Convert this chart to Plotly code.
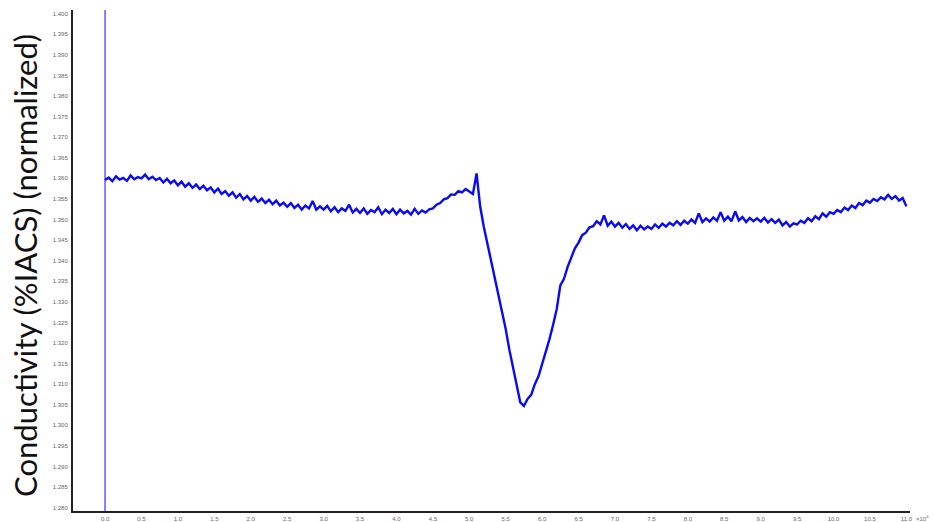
import plotly.graph_objects as go

# position (x 10^4) and normalized conductivity (%IACS)
x_values = [
    0.00, 0.05, 0.10, 0.15, 0.20, 0.25, 0.30, 0.35, 0.40, 0.45,
    0.50, 0.55, 0.60, 0.65, 0.70, 0.75, 0.80, 0.85, 0.90, 0.95,
    1.00, 1.05, 1.10, 1.15, 1.20, 1.25, 1.30, 1.35, 1.40, 1.45,
    1.50, 1.55, 1.60, 1.65, 1.70, 1.75, 1.80, 1.85, 1.90, 1.95,
    2.00, 2.05, 2.10, 2.15, 2.20, 2.25, 2.30, 2.35, 2.40, 2.45,
    2.50, 2.55, 2.60, 2.65, 2.70, 2.75, 2.80, 2.85, 2.90, 2.95,
    3.00, 3.05, 3.10, 3.15, 3.20, 3.25, 3.30, 3.35, 3.40, 3.45,
    3.50, 3.55, 3.60, 3.65, 3.70, 3.75, 3.80, 3.85, 3.90, 3.95,
    4.00, 4.05, 4.10, 4.15, 4.20, 4.25, 4.30, 4.35, 4.40, 4.45,
    4.50, 4.55, 4.60, 4.65, 4.70, 4.75, 4.80, 4.85, 4.90, 4.95,
    5.00, 5.05, 5.10, 5.15, 5.20, 5.25, 5.30, 5.35, 5.40, 5.45,
    5.50, 5.55, 5.60, 5.65, 5.70, 5.75, 5.80, 5.85, 5.90, 5.95,
    6.00, 6.05, 6.10, 6.15, 6.20, 6.25, 6.30, 6.35, 6.40, 6.45,
    6.50, 6.55, 6.60, 6.65, 6.70, 6.75, 6.80, 6.85, 6.90, 6.95,
    7.00, 7.05, 7.10, 7.15, 7.20, 7.25, 7.30, 7.35, 7.40, 7.45,
    7.50, 7.55, 7.60, 7.65, 7.70, 7.75, 7.80, 7.85, 7.90, 7.95,
    8.00, 8.05, 8.10, 8.15, 8.20, 8.25, 8.30, 8.35, 8.40, 8.45,
    8.50, 8.55, 8.60, 8.65, 8.70, 8.75, 8.80, 8.85, 8.90, 8.95,
    9.00, 9.05, 9.10, 9.15, 9.20, 9.25, 9.30, 9.35, 9.40, 9.45,
    9.50, 9.55, 9.60, 9.65, 9.70, 9.75, 9.80, 9.85, 9.90, 9.95,
    10.00, 10.05, 10.10, 10.15, 10.20, 10.25, 10.30, 10.35, 10.40, 10.45,
    10.50, 10.55, 10.60, 10.65, 10.70, 10.75, 10.80, 10.85, 10.90, 10.95,
    11.00,
]

conductivity = [
    1.3596, 1.3602, 1.3593, 1.3605, 1.3597, 1.3601, 1.3594, 1.3607, 1.3598, 1.3603,
    1.3600, 1.3609, 1.3598, 1.3604, 1.3596, 1.3601, 1.3590, 1.3599, 1.3588, 1.3595,
    1.3583, 1.3592, 1.3580, 1.3588, 1.3577, 1.3585, 1.3574, 1.3582, 1.3571, 1.3578,
    1.3566, 1.3575, 1.3562, 1.3569, 1.3558, 1.3566, 1.3553, 1.3562, 1.3549, 1.3557,
    1.3546, 1.3555, 1.3543, 1.3551, 1.3540, 1.3548, 1.3537, 1.3546, 1.3534, 1.3541,
    1.3531, 1.3540, 1.3528, 1.3536, 1.3524, 1.3534, 1.3527, 1.3545, 1.3524, 1.3532,
    1.3524, 1.3533, 1.3520, 1.3530, 1.3518, 1.3527, 1.3521, 1.3536, 1.3517, 1.3526,
    1.3516, 1.3527, 1.3514, 1.3523, 1.3518, 1.3530, 1.3513, 1.3524, 1.3516, 1.3526,
    1.3513, 1.3524, 1.3515, 1.3521, 1.3512, 1.3526, 1.3514, 1.3522, 1.3517, 1.3525,
    1.3527, 1.3536, 1.3540, 1.3549, 1.3552, 1.3561, 1.3560, 1.3569, 1.3566, 1.3574,
    1.3568, 1.3562, 1.3612, 1.3531, 1.3482, 1.3441, 1.3400, 1.3358, 1.3317, 1.3275,
    1.3234, 1.3184, 1.3139, 1.3094, 1.3056, 1.3047, 1.3064, 1.3074, 1.3100, 1.3119,
    1.3148, 1.3175, 1.3209, 1.3244, 1.3282, 1.3340, 1.3356, 1.3385, 1.3408, 1.3430,
    1.3444, 1.3462, 1.3468, 1.3481, 1.3484, 1.3496, 1.3488, 1.3510, 1.3485, 1.3495,
    1.3483, 1.3492, 1.3480, 1.3489, 1.3477, 1.3486, 1.3474, 1.3485, 1.3476, 1.3483,
    1.3477, 1.3488, 1.3480, 1.3490, 1.3483, 1.3492, 1.3486, 1.3496, 1.3487, 1.3497,
    1.3490, 1.3500, 1.3492, 1.3515, 1.3494, 1.3503, 1.3495, 1.3505, 1.3497, 1.3518,
    1.3497, 1.3507, 1.3496, 1.3520, 1.3498, 1.3506, 1.3494, 1.3504, 1.3496, 1.3503,
    1.3495, 1.3504, 1.3493, 1.3501, 1.3492, 1.3500, 1.3486, 1.3494, 1.3483, 1.3491,
    1.3488, 1.3497, 1.3492, 1.3503, 1.3496, 1.3508, 1.3501, 1.3515, 1.3507, 1.3518,
    1.3514, 1.3523, 1.3518, 1.3529, 1.3523, 1.3534, 1.3528, 1.3540, 1.3535, 1.3546,
    1.3541, 1.3550, 1.3545, 1.3554, 1.3549, 1.3560, 1.3550, 1.3557, 1.3546, 1.3552,
    1.3532,
]

# off-scale spike at the start of the record
spike_x = [0.0, 0.0]
spike_y = [1.2792, 1.4009]

x_ticks = [0.0, 0.5, 1.0, 1.5, 2.0, 2.5, 3.0, 3.5, 4.0, 4.5, 5.0, 5.5,
           6.0, 6.5, 7.0, 7.5, 8.0, 8.5, 9.0, 9.5, 10.0, 10.5, 11.0]
x_tick_labels = ["0.0", "0.5", "1.0", "1.5", "2.0", "2.5", "3.0", "3.5", "4.0",
                 "4.5", "5.0", "5.5", "6.0", "6.5", "7.0", "7.5", "8.0", "8.5",
                 "9.0", "9.5", "10.0", "10.5", "11.0"]

y_title = "Conductivity (%IACS) (normalized)"

fig = go.Figure()
fig.add_trace(go.Scatter(x=spike_x, y=spike_y, mode="lines",
                         line=dict(color="#5a5aff", width=1.5),
                         showlegend=False, hoverinfo="skip"))
fig.add_trace(go.Scatter(x=x_values, y=conductivity, mode="lines",
                         line=dict(color="#0a0af0", width=2.4),
                         showlegend=False))

fig.update_layout(
    width=933, height=522,
    margin=dict(l=73, r=23, t=10, b=11, autoexpand=False),
    paper_bgcolor="white", plot_bgcolor="white",
    font=dict(family="Liberation Sans", color="#555555"),
    xaxis=dict(range=[-0.44, 11.05], tickmode="array", tickvals=x_ticks,
               ticktext=x_tick_labels, showgrid=False, zeroline=False,
               showline=True, linecolor="#222222", linewidth=2,
               ticks="", tickfont=dict(size=6, color="#666666"),
               ticklabelstandoff=1, automargin=False),
    yaxis=dict(range=[1.2792, 1.4009], tickmode="linear", tick0=1.28, dtick=0.005,
               tickformat=".3f", showgrid=False, zeroline=False,
               showline=True, linecolor="#222222", linewidth=2,
               ticks="", tickfont=dict(size=6, color="#666666"),
               ticklabelstandoff=2, automargin=False),
    annotations=[
        dict(text=y_title, textangle=-90, xref="paper", yref="paper",
             x=-0.058, y=0.49, xanchor="center", yanchor="middle",
             showarrow=False, font=dict(family="Lato", size=31, color="#111111")),
        dict(text="×10<sup>4</sup>", xref="paper", yref="paper",
             x=1.0, y=0, xanchor="left", yanchor="top", yshift=-1, xshift=4,
             showarrow=False, font=dict(size=6, color="#666666")),
    ],
)

fig.write_html("out.html")
